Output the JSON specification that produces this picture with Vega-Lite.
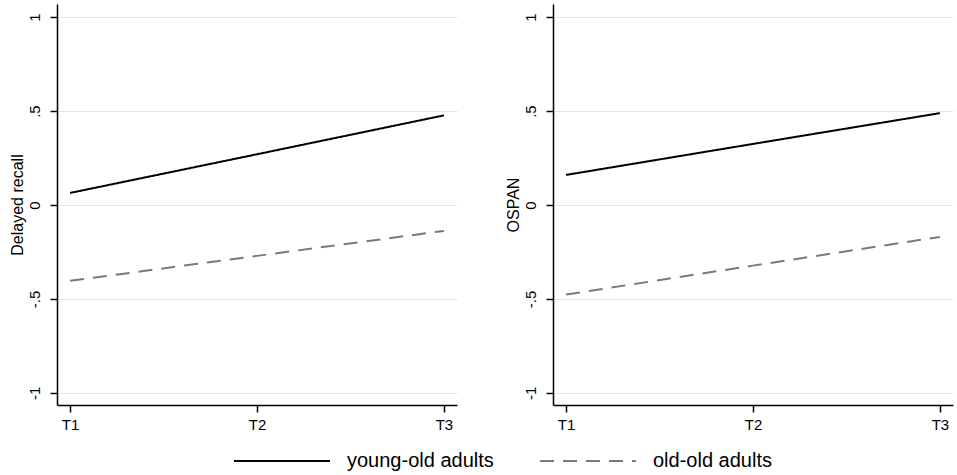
{
  "$schema": "https://vega.github.io/schema/vega-lite/v6.json",
  "padding": {"left": 9, "top": 4, "right": 5, "bottom": 5},
  "datasets": {
    "recall": [
      {"time": "T1", "group": "young-old adults", "value": 0.064},
      {"time": "T2", "group": "young-old adults", "value": 0.270},
      {"time": "T3", "group": "young-old adults", "value": 0.477},
      {"time": "T1", "group": "old-old adults", "value": -0.404},
      {"time": "T2", "group": "old-old adults", "value": -0.271},
      {"time": "T3", "group": "old-old adults", "value": -0.138}
    ],
    "ospan": [
      {"time": "T1", "group": "young-old adults", "value": 0.160},
      {"time": "T2", "group": "young-old adults", "value": 0.325},
      {"time": "T3", "group": "young-old adults", "value": 0.489},
      {"time": "T1", "group": "old-old adults", "value": -0.477},
      {"time": "T2", "group": "old-old adults", "value": -0.323},
      {"time": "T3", "group": "old-old adults", "value": -0.170}
    ]
  },
  "spacing": 48,
  "hconcat": [
    {
      "width": 400,
      "height": 401,
      "data": {"name": "recall"},
      "mark": {"type": "line", "strokeWidth": 2},
      "encoding": {
        "x": {"field": "time", "type": "ordinal", "scale": {"type": "point", "padding": 0.07}, "axis": {"title": null}},
        "y": {"field": "value", "type": "quantitative", "scale": {"domain": [-1.065, 1.07], "nice": false, "zero": false}, "axis": {"title": "Delayed recall", "values": [-1, -0.5, 0, 0.5, 1]}},
        "color": {"field": "group", "type": "nominal", "scale": {"domain": ["young-old adults", "old-old adults"], "range": ["#000000", "#7a7a7a"]}, "legend": {"orient": "none", "legendX": 176, "legendY": 408, "direction": "horizontal", "title": null}},
        "strokeDash": {"field": "group", "type": "nominal", "scale": {"domain": ["young-old adults", "old-old adults"], "range": [[1, 0], [14, 9]]}, "legend": {"orient": "none", "legendX": 176, "legendY": 408, "direction": "horizontal", "title": null}}
      }
    },
    {
      "width": 400,
      "height": 401,
      "data": {"name": "ospan"},
      "mark": {"type": "line", "strokeWidth": 2},
      "encoding": {
        "x": {"field": "time", "type": "ordinal", "scale": {"type": "point", "padding": 0.07}, "axis": {"title": null}},
        "y": {"field": "value", "type": "quantitative", "scale": {"domain": [-1.065, 1.07], "nice": false, "zero": false}, "axis": {"title": "OSPAN", "values": [-1, -0.5, 0, 0.5, 1]}},
        "color": {"field": "group", "type": "nominal", "scale": {"domain": ["young-old adults", "old-old adults"], "range": ["#000000", "#7a7a7a"]}, "legend": {"orient": "none", "legendX": 176, "legendY": 408, "direction": "horizontal", "title": null}},
        "strokeDash": {"field": "group", "type": "nominal", "scale": {"domain": ["young-old adults", "old-old adults"], "range": [[1, 0], [14, 9]]}, "legend": {"orient": "none", "legendX": 176, "legendY": 408, "direction": "horizontal", "title": null}}
      }
    }
  ],
  "resolve": {"scale": {"y": "independent"}},
  "config": {
    "font": "Liberation Sans",
    "view": {"stroke": null},
    "axis": {
      "domainColor": "#000000",
      "domainWidth": 1.5,
      "tickColor": "#000000",
      "tickWidth": 1.5,
      "tickSize": 7,
      "labelColor": "#000000",
      "labelFontSize": 15,
      "labelFont": "Liberation Sans",
      "titleFont": "Liberation Sans",
      "titleFontSize": 16,
      "titleFontWeight": "normal",
      "titleColor": "#000000"
    },
    "axisX": {"grid": false, "labelAngle": 0, "labelPadding": 5, "labelFontSize": 15},
    "axisY": {"grid": true, "gridColor": "#e3e7e8", "gridWidth": 1, "labelAngle": -90, "labelPadding": 8, "titlePadding": 2, "labelExpr": "datum.value == 1 ? '1' : datum.value == 0.5 ? '.5' : datum.value == 0 ? '0' : datum.value == -0.5 ? '-.5' : '-1'"},
    "legend": {
      "symbolType": "stroke",
      "symbolSize": 9216,
      "symbolStrokeWidth": 2,
      "labelFontSize": 20,
      "labelFont": "Liberation Sans",
      "labelColor": "#000000",
      "labelOffset": 16,
      "columnPadding": 42,
      "labelLimit": 300
    }
  }
}
